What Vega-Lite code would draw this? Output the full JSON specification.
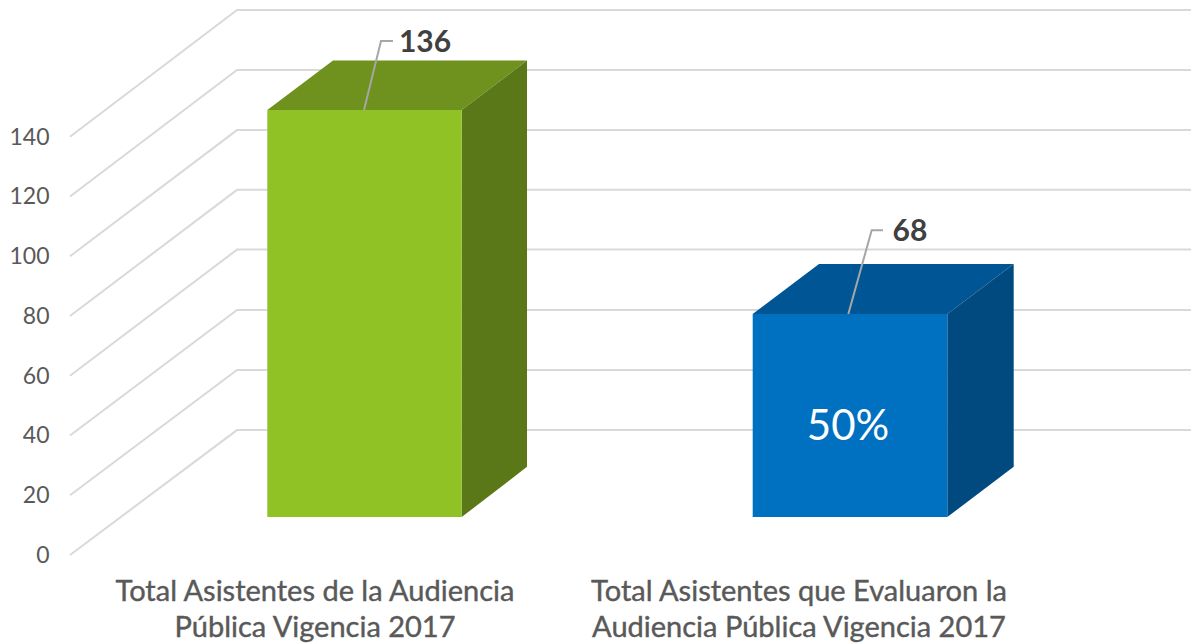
{
"$schema":"https://vega.github.io/schema/vega-lite/v6.json",
"width":1191,"height":643,"padding":0,"autosize":{"type":"none"},"background":"white",
"config":{"view":{"stroke":null}},
"datasets":{
"grid":[
{"level":0,"d":70,"v":0},{"level":0,"d":237,"v":41.8},{"level":0,"d":1191,"v":41.8},
{"level":20,"d":70,"v":20},{"level":20,"d":237,"v":61.9},{"level":20,"d":1191,"v":61.9},
{"level":40,"d":70,"v":40},{"level":40,"d":237,"v":82},{"level":40,"d":1191,"v":82},
{"level":60,"d":70,"v":60},{"level":60,"d":237,"v":102.2},{"level":60,"d":1191,"v":102.2},
{"level":80,"d":70,"v":80},{"level":80,"d":237,"v":122.2},{"level":80,"d":1191,"v":122.2},
{"level":100,"d":70,"v":100},{"level":100,"d":237,"v":142.2},{"level":100,"d":1191,"v":142.2},
{"level":120,"d":70,"v":120},{"level":120,"d":237,"v":162.3},{"level":120,"d":1191,"v":162.3},
{"level":140,"d":70,"v":140},{"level":140,"d":237,"v":182.4},{"level":140,"d":1191,"v":182.4}
],
"faces":[
{"face":"green top","d":267.3,"hi":148.9,"lo":148.9},
{"face":"green top","d":333,"hi":165.5,"lo":148.9},
{"face":"green top","d":461.7,"hi":165.5,"lo":148.9},
{"face":"green top","d":527,"hi":165.5,"lo":165.5},
{"face":"green side","d":461.7,"hi":148.9,"lo":12.7},
{"face":"green side","d":527,"hi":165.5,"lo":29.5},
{"face":"blue top","d":752.7,"hi":80.65,"lo":80.65},
{"face":"blue top","d":819,"hi":97.4,"lo":80.65},
{"face":"blue top","d":947.3,"hi":97.4,"lo":80.65},
{"face":"blue top","d":1013.7,"hi":97.4,"lo":97.4},
{"face":"blue side","d":947.3,"hi":80.65,"lo":12.7},
{"face":"blue side","d":1013.7,"hi":97.4,"lo":29.5}
],
"fronts":[
{"face":"green front","d":267.3,"d2":461.7,"hi":148.9,"lo":12.7},
{"face":"blue front","d":752.7,"d2":947.3,"hi":80.65,"lo":12.7}
],
"leaders":[
{"bar":"a","d":364,"v":148.9,"o":1},{"bar":"a","d":381,"v":172,"o":2},{"bar":"a","d":393,"v":172,"o":3},
{"bar":"b","d":848.3,"v":80.65,"o":1},{"bar":"b","d":871.7,"v":108.7,"o":2},{"bar":"b","d":883,"v":108.7,"o":3}
],
"values":[
{"t":"136","d":425,"v":171.4},{"t":"68","d":910,"v":108.1}
],
"pct":[{"t":"50%","d":848,"v":42.7}],
"cats":[
{"t":"Total Asistentes de la Audiencia","d":315,"v":-12.5},
{"t":"Pública Vigencia 2017","d":315,"v":-24.3},
{"t":"Total Asistentes que Evaluaron la","d":799,"v":-12.5},
{"t":"Audiencia Pública Vigencia 2017","d":799,"v":-24.3}
]
},
"layer":[
{"data":{"name":"grid"},"mark":{"type":"line","color":"#d9d9d9","strokeWidth":2,"clip":true},
 "encoding":{
  "x":{"field":"d","type":"quantitative","scale":{"domain":[0,1191],"nice":false,"zero":false},"axis":null},
  "y":{"field":"v","type":"quantitative","scale":{"domain":[-29.45,185.74],"nice":false,"zero":false},
   "axis":{"orient":"left","offset":-49,"values":[0,20,40,60,80,100,120,140],"domain":false,"ticks":false,"grid":false,"title":null,"labelPadding":0,"labelOffset":0.5,"labelFont":"Lato","labelFontSize":23,"labelColor":"#595959"}},
  "detail":{"field":"level"}}},
{"data":{"name":"faces"},"mark":{"type":"area"},
 "encoding":{
  "x":{"field":"d","type":"quantitative"},
  "y":{"field":"hi","type":"quantitative","stack":null},
  "y2":{"field":"lo"},
  "color":{"field":"face","type":"nominal","legend":null,"scale":{"domain":["green top","green side","blue top","blue side","green front","blue front"],"range":["#6f911d","#5a7817","#005695","#004a80","#90c226","#0070c0"]}}}},
{"data":{"name":"fronts"},"mark":{"type":"rect"},
 "encoding":{
  "x":{"field":"d","type":"quantitative"},"x2":{"field":"d2"},
  "y":{"field":"hi","type":"quantitative"},"y2":{"field":"lo"},
  "color":{"field":"face","type":"nominal","legend":null}}},
{"data":{"name":"leaders"},"mark":{"type":"line","color":"#a6a6a6","strokeWidth":2},
 "encoding":{
  "x":{"field":"d","type":"quantitative"},
  "y":{"field":"v","type":"quantitative"},
  "detail":{"field":"bar"}}},
{"data":{"name":"values"},"mark":{"type":"text","font":"Lato","fontSize":30,"fontWeight":"bold","color":"#404040","align":"center","baseline":"middle"},
 "encoding":{"x":{"field":"d","type":"quantitative"},"y":{"field":"v","type":"quantitative"},"text":{"field":"t"}}},
{"data":{"name":"pct"},"mark":{"type":"text","font":"Lato","fontSize":42,"color":"white","align":"center","baseline":"middle"},
 "encoding":{"x":{"field":"d","type":"quantitative"},"y":{"field":"v","type":"quantitative"},"text":{"field":"t"}}},
{"data":{"name":"cats"},"mark":{"type":"text","font":"Lato","fontSize":29,"color":"#595959","stroke":"#595959","strokeWidth":0.4,"align":"center","baseline":"middle"},
 "encoding":{"x":{"field":"d","type":"quantitative"},"y":{"field":"v","type":"quantitative"},"text":{"field":"t"}}}
],
"resolve":{"scale":{"color":"shared"}}
}
